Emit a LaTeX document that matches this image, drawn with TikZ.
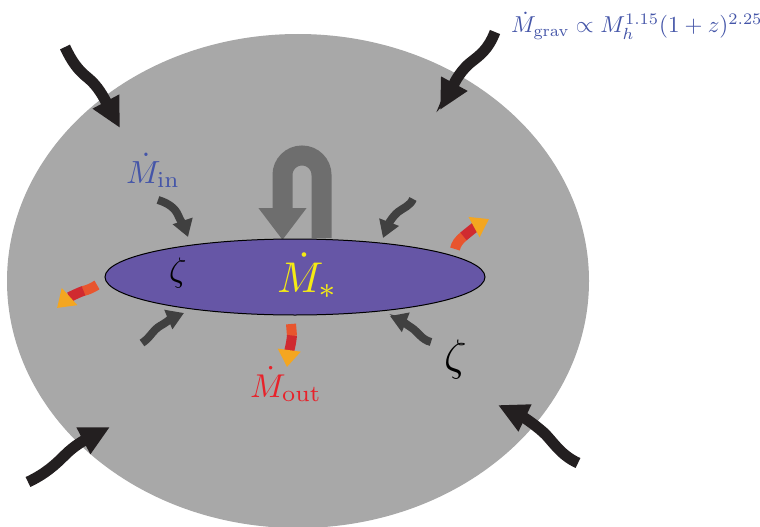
\documentclass[tikz,border=0pt]{standalone}
\usepackage{graphicx}
\usetikzlibrary{arrows.meta}
\definecolor{halogray}{HTML}{A8A8A8}
\definecolor{diskpurple}{HTML}{6656A6}
\definecolor{flowblack}{HTML}{231F20}
\definecolor{flowgray}{HTML}{404040}
\definecolor{loopgray}{HTML}{6E6E6E}
\definecolor{labelblue}{HTML}{4455A8}
\definecolor{hotred}{HTML}{D02A30}
\definecolor{hotstart}{HTML}{E8552E}
\definecolor{hotorange}{HTML}{F4A620}
\definecolor{staryellow}{HTML}{F5EB14}
\definecolor{outred}{HTML}{E8222A}

\begin{document}
\begin{tikzpicture}[x=1pt,y=-1pt,
  inflow/.style={line width=11pt, flowblack, -{Triangle[width=28pt,length=30pt]}},
  diskflow/.style={line width=8pt, flowgray, -{Triangle[width=20pt,length=17pt]}},
  hotflow/.style={line width=10pt, hotred, -{Triangle[width=22pt,length=17pt,color=hotorange]}},
  hottail/.style={line width=10pt, hotstart},
  lbl/.style={inner sep=0pt, anchor=base west}]
\useasboundingbox (0,0) rectangle (760,527);
\clip (0,0) rectangle (760,527);
% halo
\fill[halogray] (298,281) ellipse [x radius=291, y radius=247];
% gravitational inflow
\draw[inflow] (65,47) .. controls (72,62) and (78,70) .. (88,78) .. controls (98,86) and (104,98) .. (120,128);
\draw[inflow] (495,32) .. controls (488,50) and (480,55) .. (470,63) .. controls (458,73) and (452,88) .. (440,110);
\draw[inflow] (28,482) .. controls (45,474) and (55,465) .. (65,455) .. controls (75,445) and (85,440) .. (110,427);
\draw[inflow] (578,463) .. controls (560,455) and (552,440) .. (543,432) .. controls (535,425) and (525,418) .. (498,405);
% recycling loop
\draw[line width=20pt, loopgray, -{Triangle[width=46pt,length=32pt]}] (321.5,238) -- (321.5,175)
  .. controls (321.5,164.2) and (312.8,155.5) .. (302,155.5)
  .. controls (291.2,155.5) and (282.5,164.2) .. (282.5,175) -- (282.5,240);
% disk
\draw[fill=diskpurple, line width=1pt, draw=black] (295,277) ellipse [x radius=190, y radius=38];
% inflow onto the disk
\draw[diskflow] (158,200) .. controls (168,203) and (175,208) .. (178,215) .. controls (181,222) and (185,228) .. (188,237);
\draw[diskflow] (413,199) .. controls (410,206) and (403,208) .. (398,212) .. controls (392,217) and (388,225) .. (383,238);
\draw[diskflow] (142,343) .. controls (150,338) and (153,330) .. (160,326) .. controls (167,322) and (172,318) .. (184,313);
\draw[diskflow] (431,342) .. controls (422,340) and (418,332) .. (412,328) .. controls (406,324) and (400,320) .. (390,316);
% outflows
\draw[hottail] (455,249) .. controls (456,244) and (459,240) .. (464,236);
\draw[hotflow] (463.5,236.4) .. controls (470,231) and (478,225) .. (489,219);
\draw[hottail] (97,285) .. controls (92,288) and (88,290) .. (83,291);
\draw[hotflow] (83.5,290.8) .. controls (75,294) and (68,298) .. (57,308);
\draw[hottail] (291,324) -- (292,336);
\draw[hotflow] (292,335.5) .. controls (291,345) and (289,352) .. (287,367);
% labels
\node[lbl, labelblue] (grav) at (511,33) {\scalebox{2.3}{$\dot M_{\mathrm{grav}} \propto M_h^{1.15}(1+z)^{2.25}$}};
\node[lbl, labelblue] (min) at (126,183) {\scalebox{3.2}{$\dot M_{\mathrm{in}}$}};
\node[lbl, staryellow] (mstar) at (277,292) {\scalebox{4.3}{$\dot M_*$}};
\node[lbl, outred] (mout) at (250,397) {\scalebox{3.3}{$\dot M_{\mathrm{out}}$}};
\node[lbl, black] (zetadisk) at (169,281) {\scalebox{3.4}{$\zeta$}};
\node[lbl, black] (zetahalo) at (444,370.5) {\scalebox{4.4}{$\zeta$}};
\end{tikzpicture}
\end{document}
